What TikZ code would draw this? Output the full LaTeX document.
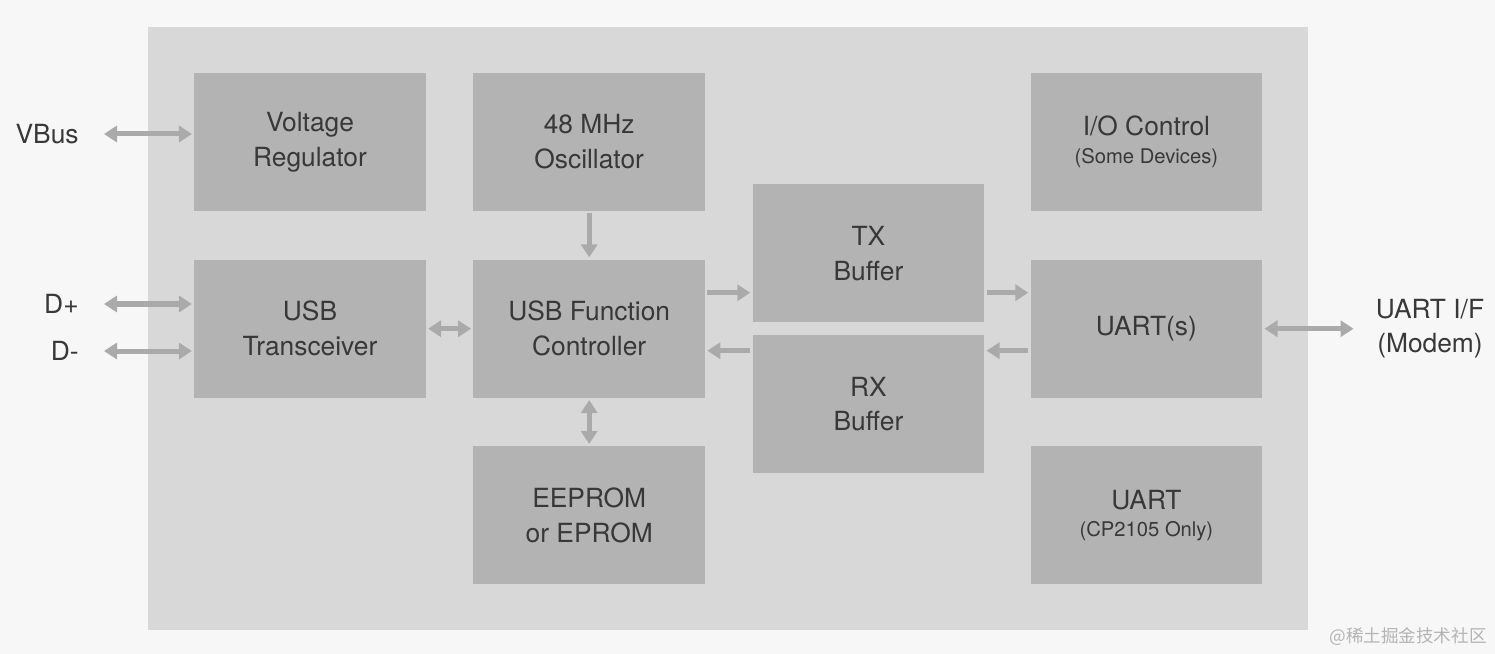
\documentclass[tikz,border=0pt]{standalone}
\usepackage{fontspec}
\setmainfont{TeX Gyre Heros}
\newfontfamily\cjkfont{Noto Sans CJK SC}
\usetikzlibrary{arrows.meta, positioning, calc}
\definecolor{cPage}{RGB}{247,247,247}
\definecolor{cPanel}{RGB}{216,216,216}
\definecolor{cBlock}{RGB}{179,179,179}
\definecolor{cWire}{RGB}{170,170,170}
\definecolor{cInk}{RGB}{56,56,56}
\definecolor{cMark}{RGB}{180,180,180}
\tikzset{
	blk/.style  ={rectangle, fill=cBlock, minimum width=4.63cm, minimum height=2.76cm, inner sep=0pt, align=center, text=cInk, font=\fontsize{15}{19.8}\selectfont},
	pin/.style  ={inner sep=0pt, align=center, text=cInk, font=\fontsize{15}{19.8}\selectfont},
	sig/.style  ={-{Triangle[length=0.26cm, width=0.32cm]}, line width=0.1cm, draw=cWire, shorten <=0.04cm, shorten >=0.04cm},
	bisig/.style={{Triangle[length=0.26cm, width=0.32cm]}-{Triangle[length=0.26cm, width=0.32cm]}, line width=0.1cm, draw=cWire, shorten <=0.04cm, shorten >=0.04cm},
}
\newcommand{\subtext}[1]{{\fontsize{11.5}{14}\selectfont #1}}
\begin{document}
\begin{tikzpicture}[node distance=0.96cm and 0.94cm]
	% page and chip outline
	\fill[cPage] (0,0) rectangle (29.9,-13.08);
	\fill[cPanel] (2.96,-0.54) rectangle (26.16,-12.6);
	% blocks
	\node[blk] (vreg) at (6.2,-2.84) {Voltage\\ Regulator};
	\node[blk, right=of vreg] (osc) {48 MHz\\ Oscillator};
	\node[blk, below=of vreg] (trx) {USB\\ Transceiver};
	\node[blk, right=of trx] (ctrl) {USB Function\\ Controller};
	\node[blk, below=of ctrl] (rom) {EEPROM\\ or EPROM};
	\node[blk, anchor=south west] (tx) at ([xshift=0.94cm, yshift=0.12cm]ctrl.east) {TX\\ Buffer};
	\node[blk, anchor=north west] (rx) at ([xshift=0.94cm, yshift=-0.12cm]ctrl.east) {RX\\ Buffer};
	\node[blk, right=6.5cm of ctrl] (uart) {UART(s)};
	\node[blk, above=of uart] (ioc) {I/O Control\\[-4pt] \subtext{(Some Devices)}};
	\node[blk, below=of uart] (uart2) {UART\\[-4.5pt] \subtext{(CP2105 Only)}};
	% pins
	\node[pin, anchor=east] (vbus) at (1.58,-2.68) {VBus};
	\node[pin, anchor=east] (dp) at (1.58,-6.08) {D+};
	\node[pin, anchor=east] (dm) at (1.58,-7.02) {D-};
	\node[pin, right=2.26cm of uart] (modem) {UART I/F\\ (Modem)};
	% signals
	\draw[bisig, shorten <=0.5cm] (vbus.east) -- (vbus.east -| vreg.west);
	\draw[bisig, shorten <=0.5cm] (dp.east) -- (dp.east -| trx.west);
	\draw[bisig, shorten <=0.5cm] (dm.east) -- (dm.east -| trx.west);
	\draw[bisig] (trx) -- (ctrl);
	\draw[sig] (osc) -- (ctrl);
	\draw[bisig] (ctrl) -- (rom);
	\draw[sig] ([yshift=0.72cm]ctrl.east) -- ([yshift=0.72cm]ctrl.east -| tx.west);
	\draw[sig] ([yshift=-0.44cm]ctrl.east -| rx.west) -- ([yshift=-0.44cm]ctrl.east);
	\draw[sig] ([yshift=0.72cm]uart.west -| tx.east) -- ([yshift=0.72cm]uart.west);
	\draw[sig] ([yshift=-0.44cm]uart.west) -- ([yshift=-0.44cm]uart.west -| rx.east);
	\draw[bisig, shorten >=0.44cm] (uart) -- (modem);
	% watermark
	\node[anchor=east, inner sep=0pt, text=cMark, font=\cjkfont\fontsize{10}{11}\selectfont] (mark) at (29.74,-12.74) {@稀土掘金技术社区};
\end{tikzpicture}
\end{document}
